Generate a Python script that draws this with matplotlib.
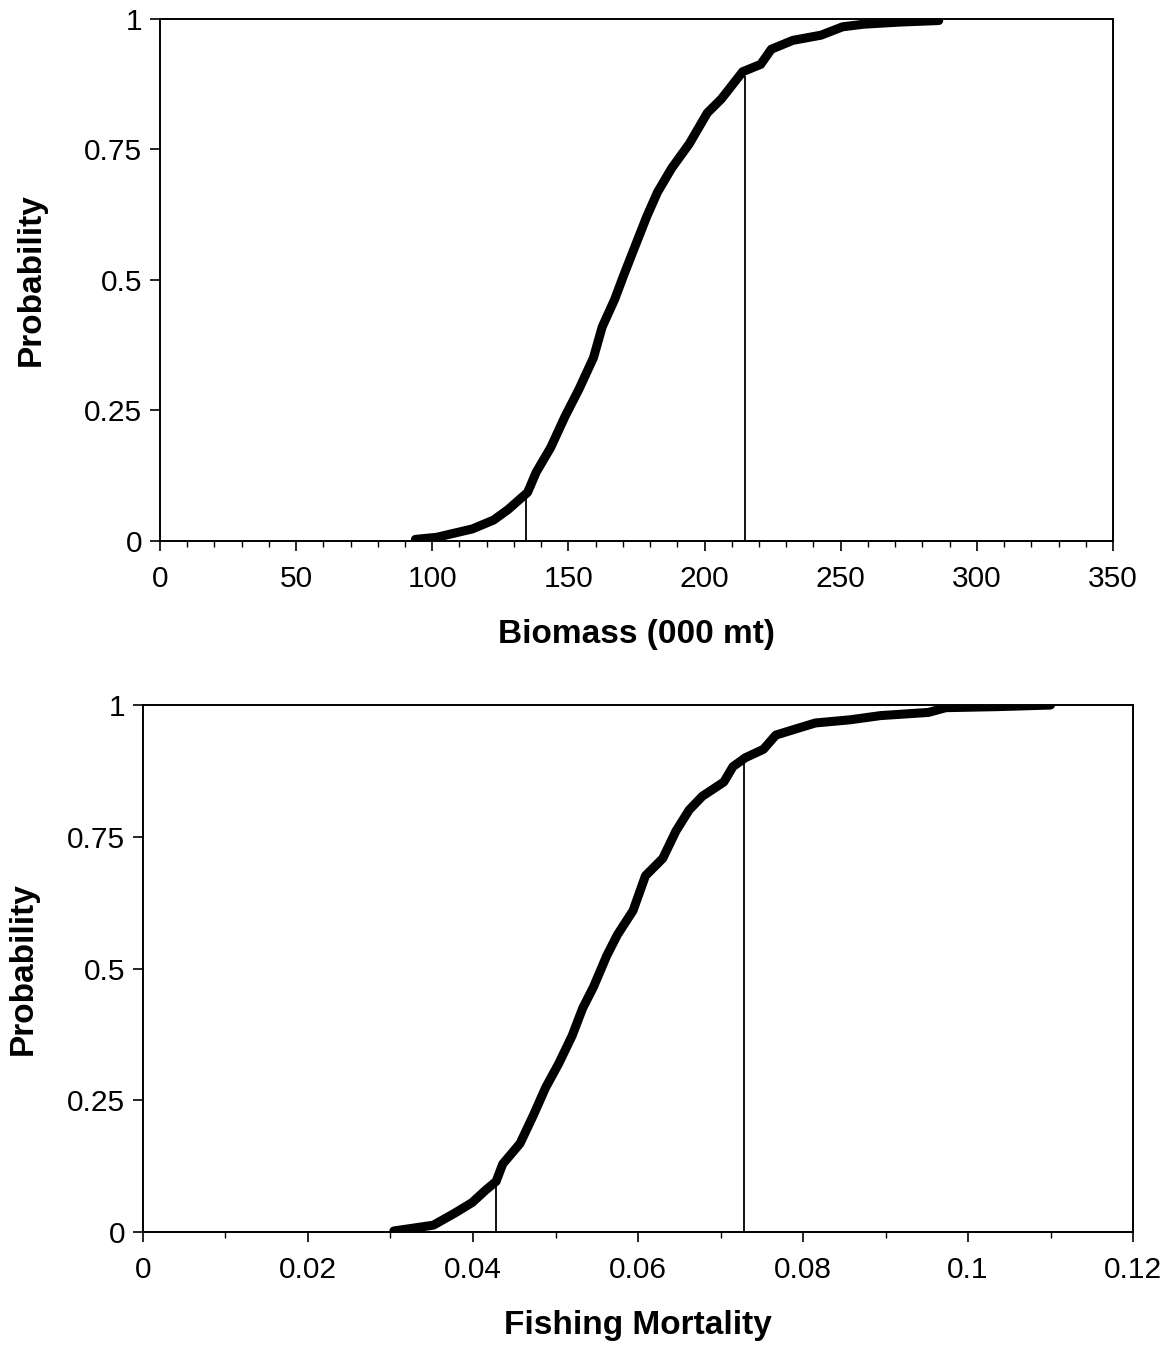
import matplotlib
matplotlib.use("Agg")
import matplotlib.pyplot as plt
from matplotlib.ticker import MultipleLocator, FuncFormatter

plt.rcParams['font.family'] = ['Liberation Sans', 'DejaVu Sans']

# Biomass cumulative probability
biomass_x = [93.8, 101.6, 114.7, 122.5, 127.8, 135, 138.2, 143.5, 148.7, 153.9,
             159.2, 162.4, 167, 170.3, 174.8, 178.8, 182.7, 187.9, 194.4, 201,
             206.2, 214, 220.6, 224.5, 232.4, 242.8, 250.7, 258.5, 271.6, 286]
biomass_p = [0.003, 0.007, 0.023, 0.04, 0.06, 0.093, 0.132, 0.179, 0.238, 0.291,
             0.351, 0.41, 0.463, 0.509, 0.569, 0.622, 0.668, 0.714, 0.761, 0.82,
             0.847, 0.899, 0.913, 0.942, 0.959, 0.969, 0.985, 0.99, 0.994, 0.997]
biomass_marks = [134.6, 214.7]
biomass_mark_p = [0.09, 0.89]

# Fishing mortality cumulative probability
fmort_x = [0.0304, 0.0352, 0.0378, 0.0399, 0.0415, 0.0428, 0.0436, 0.0457, 0.0473, 0.0488,
           0.0504, 0.052, 0.0533, 0.0546, 0.0562, 0.0575, 0.0594, 0.0609, 0.063, 0.0646,
           0.0662, 0.0678, 0.0704, 0.0715, 0.073, 0.0752, 0.0767, 0.0794, 0.0815, 0.0857,
           0.0894, 0.0952, 0.0973, 0.1036, 0.11]
fmort_p = [0.002, 0.013, 0.036, 0.056, 0.079, 0.096, 0.129, 0.168, 0.221, 0.274,
           0.32, 0.372, 0.425, 0.465, 0.524, 0.564, 0.61, 0.676, 0.709, 0.761,
           0.801, 0.827, 0.854, 0.883, 0.9, 0.916, 0.943, 0.956, 0.966, 0.972,
           0.98, 0.986, 0.995, 0.997, 1.0]
fmort_marks = [0.0428, 0.0729]
fmort_mark_p = [0.09, 0.89]

yticks = [0, 0.25, 0.5, 0.75, 1]


def fmt(v, pos):
    return f"{v:.2f}".rstrip('0').rstrip('.')


def style_axis(ax, xmax, major, minor, xlabel, ypad):
    ax.set_xlim(0, xmax)
    ax.set_ylim(0, 1)
    ax.xaxis.set_major_locator(MultipleLocator(major))
    ax.xaxis.set_minor_locator(MultipleLocator(minor))
    ax.set_yticks(yticks)
    ax.xaxis.set_major_formatter(FuncFormatter(fmt))
    ax.yaxis.set_major_formatter(FuncFormatter(fmt))
    ax.tick_params(axis='both', which='major', direction='out', length=7, width=1.2,
                   labelsize=21.5, colors='black')
    ax.tick_params(axis='x', which='minor', direction='out', length=4, width=1.0)
    ax.tick_params(axis='x', pad=10)
    ax.tick_params(axis='y', pad=6)
    for sp in ax.spines.values():
        sp.set_linewidth(1.4)
    ax.set_xlabel(xlabel, fontsize=24, fontweight='bold', labelpad=19)
    ax.set_ylabel("Probability", fontsize=24, fontweight='bold', labelpad=ypad)


fig = plt.figure(figsize=(11.71, 13.45), dpi=100)

ax1 = fig.add_axes([0.1366, 0.5978, 0.8139, 0.3881])
ax1.vlines(biomass_marks, 0, biomass_mark_p, color='black', lw=1.3)
ax1.plot(biomass_x, biomass_p, color='black', lw=6.5, solid_capstyle='round',
         solid_joinstyle='round')
style_axis(ax1, 350, 50, 10, "Biomass (000 mt)", 27)

ax2 = fig.add_axes([0.1221, 0.0840, 0.8455, 0.3918])
ax2.vlines(fmort_marks, 0, fmort_mark_p, color='black', lw=1.3)
ax2.plot(fmort_x, fmort_p, color='black', lw=6.5, solid_capstyle='round',
         solid_joinstyle='round')
style_axis(ax2, 0.12, 0.02, 0.01, "Fishing Mortality", 20)

fig.savefig("out.png", dpi=100)
